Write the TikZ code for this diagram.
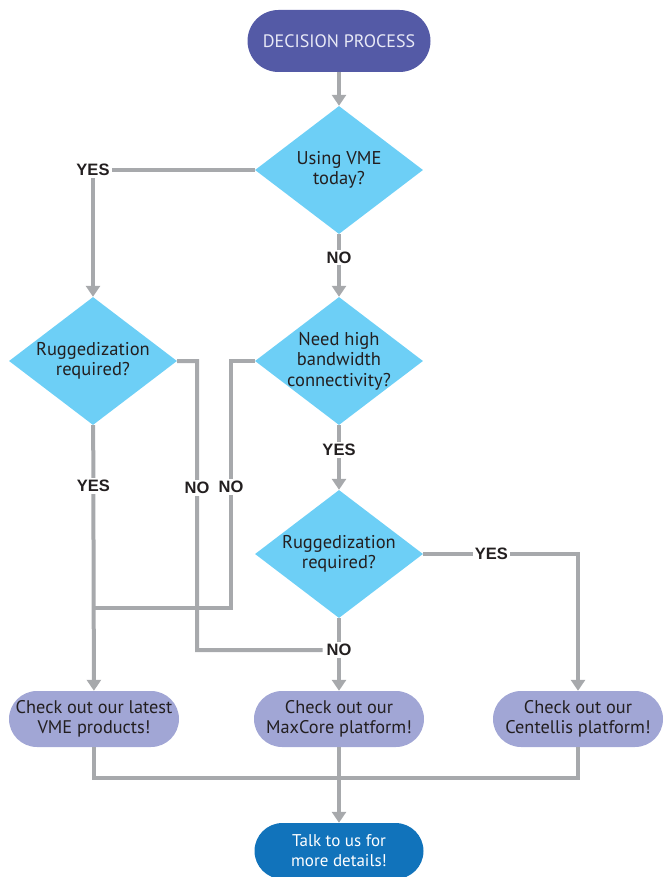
\documentclass[tikz,border=0pt]{standalone}
\usepackage{fontspec}
\setmainfont{PT Sans}
\newfontfamily\answerfont{Liberation Sans}
\usetikzlibrary{shapes.geometric,arrows.meta}

\definecolor{startblue}{RGB}{84,90,166}
\definecolor{askcyan}{RGB}{109,207,246}
\definecolor{resultlilac}{RGB}{161,166,213}
\definecolor{talkblue}{RGB}{17,115,187}
\definecolor{linegray}{RGB}{167,169,172}
\definecolor{inkdark}{RGB}{35,31,32}

\begin{document}
\begin{tikzpicture}[x=1pt,y=-1pt,
  flow/.style={draw=linegray,line width=4pt},
  arrow/.style={flow,-{Triangle[width=14pt,length=11pt]}},
  start node/.style={fill=startblue,text={rgb,255:red,232;green,233;blue,246},rounded corners=31pt,
    minimum width=183pt,minimum height=62pt,font=\fontsize{18}{21}\selectfont},
  question node/.style={shape=diamond,fill=askcyan,aspect=1.3,inner sep=-9pt,
    minimum width=168pt,minimum height=128pt,align=center,text=inkdark,
    font=\fontsize{18.5}{20.5}\selectfont},
  result node/.style={fill=resultlilac,rounded corners=28pt,minimum width=170pt,minimum height=56pt,
    align=center,text=inkdark,font=\fontsize{18.3}{20.5}\selectfont},
  talk node/.style={fill=talkblue,rounded corners=28pt,minimum width=169pt,minimum height=56pt,
    align=center,text=white,font=\fontsize{17}{20}\selectfont},
  answer node/.style={fill=white,inner sep=2pt,text=inkdark,font=\answerfont\bfseries\fontsize{16.5}{17}\selectfont}]

  \useasboundingbox (0,0) rectangle (665,877);

  \node[start node] (start) at (339,41) {DECISION PROCESS};
  \node[question node] (vme) at (339,170) {Using VME\\today?};
  \node[question node] (rugged1) at (93,361) {Ruggedization\\required?};
  \node[question node] (bandwidth) at (339,361) {Need high\\bandwidth\\connectivity?};
  \node[question node] (rugged2) at (339,554) {Ruggedization\\required?};
  \node[result node] (latest) at (94,719) {Check out our latest\\VME products!};
  \node[result node] (maxcore) at (339,719) {Check out our\\MaxCore platform!};
  \node[result node] (centellis) at (578,719) {Check out our\\Centellis platform!};
  \node[talk node] (talk) at (339,851) {Talk to us for\\more details!};

  \coordinate (noA) at (197,650);
  \coordinate (noB) at (231,608);
  \coordinate (merge) at (93,608);
  \coordinate (join) at (339,778);

  \draw[arrow] (start) -- (vme);
  \draw[arrow] (vme.west) -| node[answer node,pos=0.5] {YES} (rugged1.north);
  \draw[arrow] (vme) -- node[answer node,pos=0.37] {NO} (bandwidth);

  \draw[arrow] (rugged1) -- node[answer node,pos=0.23] {YES} (latest);
  \draw[arrow] (bandwidth) -- node[answer node,pos=0.38] {YES} (rugged2);
  \draw[arrow] (rugged2) -- node[answer node,pos=0.44] (no2) {NO} (maxcore);
  \draw[arrow] (rugged2.east) -| node[answer node,pos=0.22] {YES} (centellis.north);

  \draw[flow] (bandwidth.west) -| node[answer node,pos=0.755] {NO} (noB) -- (merge);
  \draw[flow] (rugged1.east) -| node[answer node,pos=0.72] {NO} (noA) -- (no2);

  \draw[flow] (latest.south) |- (join) -| (centellis.south);
  \draw[arrow] (maxcore) -- (talk);

\end{tikzpicture}
\end{document}
